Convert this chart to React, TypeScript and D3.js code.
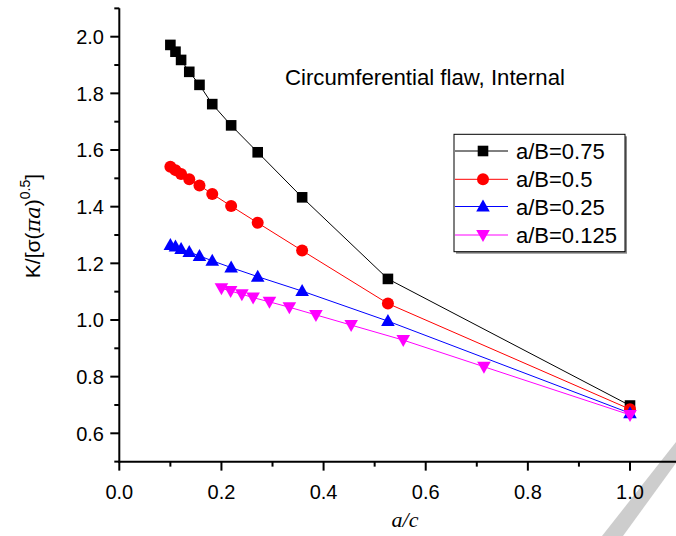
import React from "react";
import * as d3 from "d3";

const xMain = [0.1, 0.11, 0.121, 0.137, 0.157, 0.182, 0.219, 0.271, 0.358, 0.526, 1.0];
const yB075 = [1.971, 1.947, 1.918, 1.876, 1.83, 1.762, 1.687, 1.592, 1.433, 1.145, 0.698];
const yB05 = [1.541, 1.529, 1.515, 1.497, 1.475, 1.445, 1.402, 1.343, 1.245, 1.058, 0.685];
const yB025 = [1.265, 1.259, 1.251, 1.24, 1.226, 1.209, 1.185, 1.153, 1.102, 0.996, 0.671];
const xB0125 = [0.2, 0.218, 0.24, 0.262, 0.294, 0.333, 0.385, 0.454, 0.556, 0.714, 1.0];
const yB0125 = [1.112, 1.102, 1.091, 1.079, 1.064, 1.045, 1.018, 0.982, 0.929, 0.835, 0.665];

const seriesNames = ["a/B=0.75", "a/B=0.5", "a/B=0.25", "a/B=0.125"];
const seriesColors = ["#000000", "#ff0000", "#0000ff", "#ff00ff"];
const seriesShapes = ["square", "circle", "triUp", "triDown"];

const xTicks = [0, 0.2, 0.4, 0.6, 0.8, 1.0];
const xMinor = [0.1, 0.3, 0.5, 0.7, 0.9, 1.1];
const yTicks = [0.6, 0.8, 1.0, 1.2, 1.4, 1.6, 1.8, 2.0];
const yMinor = [0.5, 0.7, 0.9, 1.1, 1.3, 1.5, 1.7, 1.9, 2.1];

const W = 676;
const H = 536;

const x = d3.scaleLinear().domain([0, 1]).range([119.3, 630]);
const y = d3.scaleLinear().domain([0.6, 2.0]).range([433.3, 36.7]);

function Marker({ shape, cx, cy, color }: { shape: string; cx: number; cy: number; color: string }) {
  if (shape === "square") return <rect x={cx - 5.3} y={cy - 5.3} width={10.6} height={10.6} fill={color} />;
  if (shape === "circle") return <circle cx={cx} cy={cy} r={6} fill={color} />;
  if (shape === "triUp") {
    const p = d3.path();
    p.moveTo(cx, cy - 7);
    p.lineTo(cx + 6.8, cy + 5);
    p.lineTo(cx - 6.8, cy + 5);
    p.closePath();
    return <path d={p.toString()} fill={color} />;
  }
  const p = d3.path();
  p.moveTo(cx, cy + 7);
  p.lineTo(cx + 6.8, cy - 5);
  p.lineTo(cx - 6.8, cy - 5);
  p.closePath();
  return <path d={p.toString()} fill={color} />;
}

export default function App() {
  const series = [
    { xs: xMain, ys: yB075 },
    { xs: xMain, ys: yB05 },
    { xs: xMain, ys: yB025 },
    { xs: xB0125, ys: yB0125 },
  ];
  const line = d3
    .line<[number, number]>()
    .x((d) => x(d[0]))
    .y((d) => y(d[1]));
  const x0 = x(0);
  const yAxisY = y(0.5);
  const font = "Liberation Sans, Arial, sans-serif";

  const legX = 454;
  const legY = 134.3;
  const legRows = [151, 179.3, 206.5, 235];

  return (
    <svg width={W} height={H} style={{ position: "absolute", left: 0, top: 0, background: "#fff" }}>
      <rect x={0} y={0} width={W} height={H} fill="#fff" />
      {/* watermark */}
      <path d="M602,536 L623,536 L676,463 L676,442 Z" fill="#cdcdcd" />

      {/* series */}
      {series.map((s, i) => {
        const pts = s.xs.map((v, j) => [v, s.ys[j]] as [number, number]);
        return (
          <g key={i}>
            <path d={line(pts) || ""} fill="none" stroke={seriesColors[i]} strokeWidth={1} />
            {pts.map((p, j) => (
              <Marker key={j} shape={seriesShapes[i]} cx={x(p[0])} cy={y(p[1])} color={seriesColors[i]} />
            ))}
          </g>
        );
      })}

      {/* axes */}
      <line x1={x0} x2={x0} y1={y(2.1)} y2={yAxisY + 1} stroke="#000" strokeWidth={2} />
      <line x1={x0 - 1} x2={W} y1={yAxisY} y2={yAxisY} stroke="#000" strokeWidth={2} />
      {xTicks.map((t) => (
        <g key={"xt" + t}>
          <line x1={x(t)} x2={x(t)} y1={yAxisY} y2={yAxisY + 9} stroke="#000" strokeWidth={2} />
          <text x={x(t)} y={498.5} textAnchor="middle" fontFamily={font} fontSize={20} fill="#000">
            {d3.format(".1f")(t)}
          </text>
        </g>
      ))}
      {xMinor.map((t) => (
        <line key={"xm" + t} x1={x(t)} x2={x(t)} y1={yAxisY} y2={yAxisY + 5} stroke="#000" strokeWidth={2} />
      ))}
      {yTicks.map((t) => (
        <g key={"yt" + t}>
          <line x1={x0 - 9} x2={x0} y1={y(t)} y2={y(t)} stroke="#000" strokeWidth={2} />
          <text x={104} y={y(t) + 7.3} textAnchor="end" fontFamily={font} fontSize={20} fill="#000">
            {d3.format(".1f")(t)}
          </text>
        </g>
      ))}
      {yMinor.map((t) => (
        <line key={"ym" + t} x1={x0 - 5} x2={x0} y1={y(t)} y2={y(t)} stroke="#000" strokeWidth={2} />
      ))}

      {/* axis labels */}
      <text
        transform="translate(40,226) rotate(-90)"
        textAnchor="middle"
        fontFamily={font}
        fontSize={21}
        fill="#000"
      >
        <tspan>K/[σ(</tspan>
        <tspan fontFamily="DejaVu Serif, serif" fontStyle="italic">πa</tspan>
        <tspan>)</tspan>
        <tspan fontSize={14} dy={-10}>0.5</tspan>
        <tspan dy={10}>]</tspan>
      </text>
      <text x={405} y={527} textAnchor="middle" fontFamily="Liberation Serif, Times New Roman, serif" fontStyle="italic" fontSize={22} fill="#000">
        a/c
      </text>

      {/* title */}
      <text x={285} y={85} fontFamily={font} fontSize={22.2} fill="#000">
        Circumferential flaw, Internal
      </text>

      {/* legend */}
      <rect x={legX + 2} y={legY + 2} width={171} height={117.4} fill="#888" />
      <rect x={legX} y={legY} width={171} height={117.4} fill="#fff" stroke="#000" strokeWidth={1} />
      {seriesNames.map((n, i) => (
        <g key={n}>
          <line x1={455} x2={508} y1={legRows[i]} y2={legRows[i]} stroke={seriesColors[i]} strokeWidth={1} />
          <Marker shape={seriesShapes[i]} cx={483} cy={legRows[i]} color={seriesColors[i]} />
          <text x={516} y={legRows[i] + 8} fontFamily={font} fontSize={22} fill="#000">
            {n}
          </text>
        </g>
      ))}
    </svg>
  );
}
